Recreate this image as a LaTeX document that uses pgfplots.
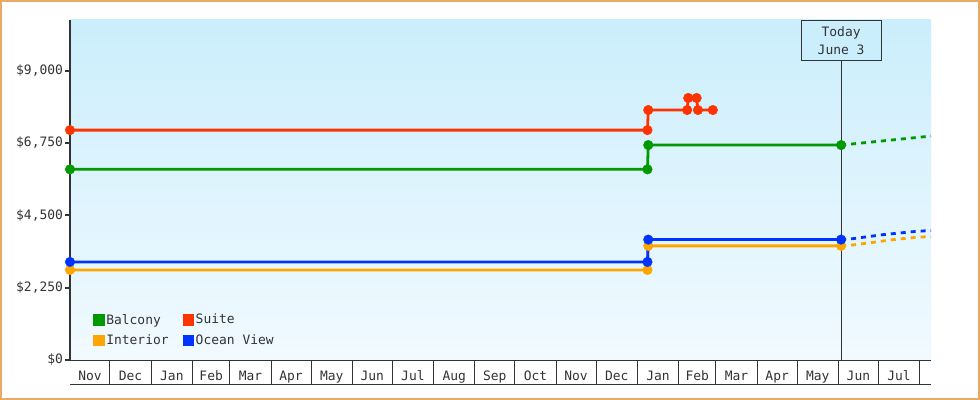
\documentclass[border=0pt]{standalone}
\usepackage{pgfplots}
\pgfplotsset{compat=1.18}
\usepackage{fontspec}
\setmainfont{DejaVu Sans Mono}

\definecolor{bal}{HTML}{009900}
\definecolor{sui}{HTML}{FF3300}
\definecolor{int}{HTML}{FFA500}
\definecolor{ocv}{HTML}{0033FF}
\definecolor{bgtop}{RGB}{203,238,252}
\definecolor{bgbot}{RGB}{241,250,255}
\definecolor{frame}{HTML}{E9AA66}
\definecolor{ink}{HTML}{333333}

\newcommand{\lblfont}{\fontsize{13}{18}\selectfont}

\begin{document}
\begin{tikzpicture}
\path[use as bounding box, fill=white] (0bp,0bp) rectangle (980bp,400bp);
\begin{axis}[
    at={(70bp,40bp)}, anchor=south west,
    scale only axis, width=861bp, height=340bp,
    xmin=0, xmax=646.5, ymin=0, ymax=10575,
    clip=false,
    axis background/.style={top color=bgtop, bottom color=bgbot},
    axis x line*=bottom, axis y line*=left,
    x axis line style={ink, line width=1bp, -},
    y axis line style={ink, line width=2bp, -},
    tick align=outside, major tick length=5bp,
    scaled y ticks=false,
    ytick={0,2250,4500,6750,9000},
    yticklabels={\$0,{\$2,250},{\$4,500},{\$6,750},{\$9,000}},
    ytick style={ink, line width=2bp},
    yticklabel style={xshift=1.5bp},
    xtick={15,45.5,76.5,106,135.5,166,196.5,227,257.5,288.5,319,349.5,380,410.5,441.5,471,500.5,531,561.5,592,622.5},
    xticklabels={Nov,Dec,Jan,Feb,Mar,Apr,May,Jun,Jul,Aug,Sep,Oct,Nov,Dec,Jan,Feb,Mar,Apr,May,Jun,Jul},
    xtick style={draw=none},
    xticklabel style={yshift=-2bp, text height=9.5bp, text depth=3bp},
    tick label style={font=\lblfont, text=ink},
    legend columns=2,
    legend image code/.code={\fill (0bp,-5.3bp) rectangle (10.7bp,5.3bp);},
    legend style={draw=none, fill=none, font=\lblfont, text=ink,
        at={(axis description cs:0,0)}, anchor=south west,
        xshift=20bp, yshift=10bp, row sep=5bp,
        /tikz/every even column/.append style={column sep=12bp}},
    legend cell align=left,
]
% month cells under the axis
\pgfplotsinvokeforeach{30,61,92,120,151,181,212,242,273,304,334,365,395,426,457,485,516,546,577,607,638}{
  \draw[ink, line width=1bp] (axis cs:#1,0) -- ([yshift=-24.5bp]axis cs:#1,0);
}
\draw[ink, line width=1.2bp] ([yshift=-24.5bp]axis cs:0,0) -- ([yshift=-24.5bp]axis cs:646.5,0);

% today marker
\draw[ink, line width=1bp] (axis cs:579,0) -- (axis cs:579,10575);
\node[draw=ink, fill=bgtop, line width=1bp, anchor=north, minimum width=80bp,
      minimum height=40bp, align=center, inner sep=0pt, font=\lblfont, text=ink]
      at (axis cs:579,10575) {Today\\June 3};

\addlegendimage{color=bal}
\addlegendimage{color=sui}
\addlegendimage{color=int}
\addlegendimage{color=ocv}
\legend{Balcony,Suite,Interior,Ocean View}

% Interior
\addplot[int, line width=2.8bp, mark=*, mark size=4.8bp, mark options={line width=0.4bp}, forget plot] coordinates {
  (0,2800) (433.6,2800) (434.2,3550) (579,3550)
};
\addplot[int, line width=2.8bp, dash pattern=on 5bp off 5bp, forget plot] coordinates {
  (579,3550) (587.9,3578) (595.4,3619) (602.9,3659) (610.4,3702)
  (617.9,3743) (625.4,3774) (632.9,3805) (640.4,3827) (646.5,3840)
};
% Ocean View
\addplot[ocv, line width=2.8bp, mark=*, mark size=4.8bp, mark options={line width=0.4bp}, forget plot] coordinates {
  (0,3050) (433.6,3050) (434.2,3745) (579,3745)
};
\addplot[ocv, line width=2.8bp, dash pattern=on 5bp off 5bp, forget plot] coordinates {
  (579,3745) (587.9,3774) (595.4,3815) (602.9,3857) (610.4,3898)
  (617.9,3929) (625.4,3960) (632.9,3991) (640.4,4013) (646.5,4030)
};
% Balcony
\addplot[bal, line width=2.8bp, mark=*, mark size=4.8bp, mark options={line width=0.4bp}, forget plot] coordinates {
  (0,5930) (433.6,5930) (434.2,6685) (579,6685)
};
\addplot[bal, line width=2.8bp, dash pattern=on 5bp off 5bp, forget plot] coordinates {
  (579,6685) (646.5,6965)
};
% Suite
\addplot[sui, line width=2.8bp, mark=*, mark size=4.8bp, mark options={line width=0.4bp}, forget plot] coordinates {
  (0,7150) (433.6,7150) (434.2,7775) (463.4,7775) (464.2,8150)
  (470.5,8150) (471.5,7775) (482.7,7775)
};
\end{axis}
\draw[frame, line width=2bp] (1bp,1bp) rectangle (979bp,399bp);
\end{tikzpicture}
\end{document}
